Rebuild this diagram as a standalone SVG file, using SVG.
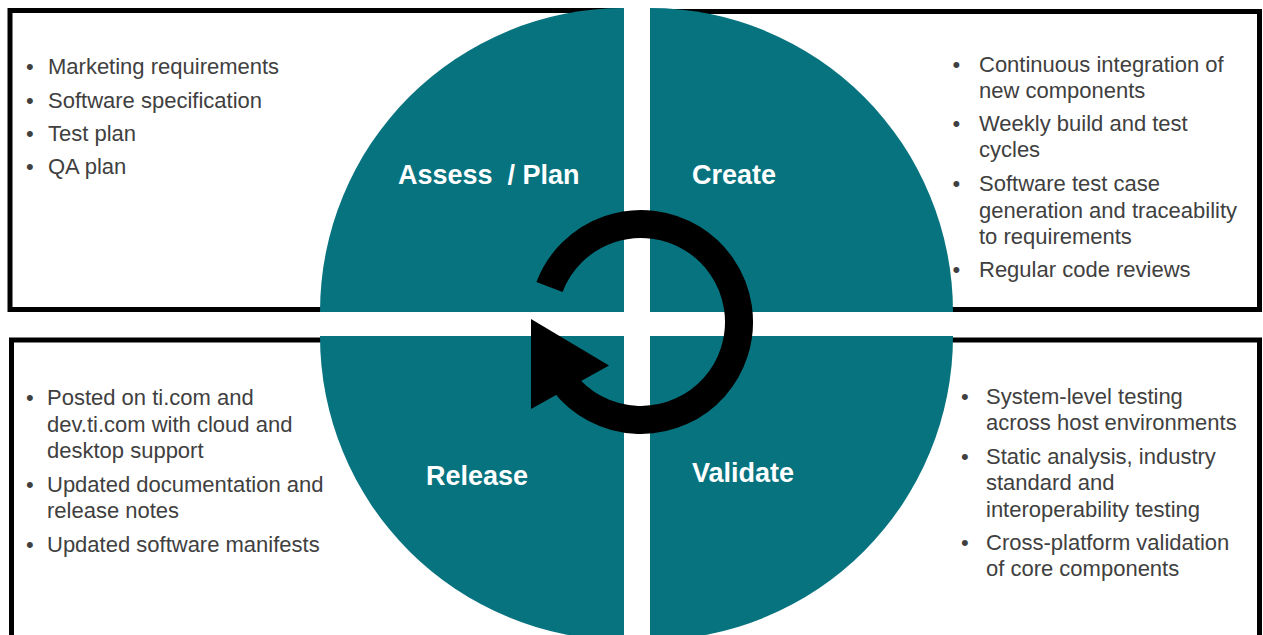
<svg xmlns="http://www.w3.org/2000/svg" width="1263" height="635" viewBox="0 0 1263 635">
<style>
.box{fill:#ffffff;stroke:#000000;stroke-width:5}
.quad{fill:#06737F}
.head{font-family:"Liberation Sans",Arial,sans-serif;font-weight:bold;font-size:27px;fill:#ffffff;white-space:pre}
.body{font-family:"Liberation Sans",Arial,sans-serif;font-size:22px;fill:#404040}
.ring{fill:none;stroke:#000000;stroke-width:28;stroke-linecap:butt}
</style>
<rect width="1263" height="635" fill="#ffffff"/>
<g id="box-plan">
<rect class="box" x="10" y="10.5" width="608" height="299"/>
<text class="body"><tspan x="26" y="74">•</tspan><tspan x="48" y="74">Marketing requirements</tspan><tspan x="26" y="107.5">•</tspan><tspan x="48" y="107.5">Software specification</tspan><tspan x="26" y="141">•</tspan><tspan x="48" y="141">Test plan</tspan><tspan x="26" y="174">•</tspan><tspan x="48" y="174">QA plan</tspan></text>
</g>
<g id="box-create">
<rect class="box" x="656" y="11.5" width="603.5" height="298"/>
<text class="body"><tspan x="952.5" y="72">•</tspan><tspan x="979" y="72">Continuous integration of</tspan><tspan x="979" y="97.5">new components</tspan><tspan x="952.5" y="131">•</tspan><tspan x="979" y="131">Weekly build and test</tspan><tspan x="979" y="157">cycles</tspan><tspan x="952.5" y="191">•</tspan><tspan x="979" y="191">Software test case</tspan><tspan x="979" y="217.5">generation and traceability</tspan><tspan x="979" y="244">to requirements</tspan><tspan x="952.5" y="277">•</tspan><tspan x="979" y="277">Regular code reviews</tspan></text>
</g>
<g id="box-release">
<rect class="box" x="11.5" y="340" width="606.5" height="320"/>
<text class="body"><tspan x="26" y="405">•</tspan><tspan x="47" y="405">Posted on ti.com and</tspan><tspan x="47" y="431.5">dev.ti.com with cloud and</tspan><tspan x="47" y="458">desktop support</tspan><tspan x="26" y="491.5">•</tspan><tspan x="47" y="491.5">Updated documentation and</tspan><tspan x="47" y="518">release notes</tspan><tspan x="26" y="551.5">•</tspan><tspan x="47" y="551.5">Updated software manifests</tspan></text>
</g>
<g id="box-validate">
<rect class="box" x="656" y="340" width="603.5" height="320"/>
<text class="body"><tspan x="961" y="404">•</tspan><tspan x="986" y="404">System-level testing</tspan><tspan x="986" y="430">across host environments</tspan><tspan x="961" y="464">•</tspan><tspan x="986" y="464">Static analysis, industry</tspan><tspan x="986" y="490">standard and</tspan><tspan x="986" y="517">interoperability testing</tspan><tspan x="961" y="550">•</tspan><tspan x="986" y="550">Cross-platform validation</tspan><tspan x="986" y="576">of core components</tspan></text>
</g>
<g id="quad-plan">
<path class="quad" d="M624 312 H320 A304 304 0 0 1 624 8 Z"/>
<text class="head" x="398" y="184">Assess  / Plan</text>
</g>
<g id="quad-create">
<path class="quad" d="M650 312 V8 A303 304 0 0 1 953 312 Z"/>
<text class="head" x="692" y="184">Create</text>
</g>
<g id="quad-release">
<path class="quad" d="M624 336 V640 A304 304 0 0 1 320 336 Z"/>
<text class="head" x="426" y="485">Release</text>
</g>
<g id="quad-validate">
<path class="quad" d="M650 336 H953 A303 304 0 0 1 650 640 Z"/>
<text class="head" x="692" y="482">Validate</text>
</g>
<g id="connectors">
<path class="ring" d="M549.5 286.9 A98 98 0 1 1 563.8 382.3"/>
<polygon points="531,319 609,365.5 531,409" fill="#000000"/>
</g>
</svg>
